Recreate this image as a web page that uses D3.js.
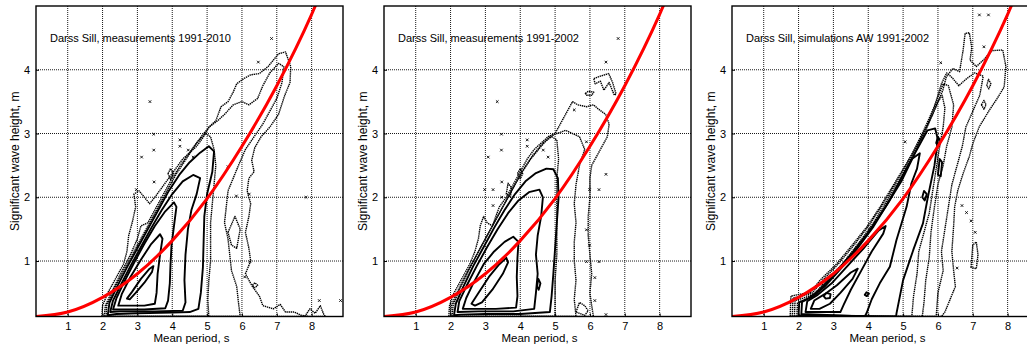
<!DOCTYPE html>
<html>
<head>
<meta charset="utf-8">
<script src="https://cdn.jsdelivr.net/npm/d3@7"></script>
<style>
  body { margin: 0; background: #fff; }
  svg { display: block; font-family: "Liberation Sans", Arial, sans-serif; }
</style>
</head>
<body>
<div id="graphic"></div>
<script>
// axis ticks
const periodTicks = [1, 2, 3, 4, 5, 6, 7, 8];
const heightTicks = [1, 2, 3, 4];
const periodRange = [0.09, 8.9];
const heightRange = [0.13, 5.0];

const panelTitles = [
  "Darss Sill, measurements 1991-2010",
  "Darss Sill, measurements 1991-2002",
  "Darss Sill, simulations AW 1991-2002"
];

// red reference curve
const curvePeriod = [0.09, 1, 2, 3, 4, 5, 6, 7, 8, 8.3];
const curveHeight = [0.13, 0.2, 0.43, 0.8, 1.32, 1.98, 2.8, 3.75, 4.87, 5.25];

// contour rings [period, height], level 1 = lowest density
const contoursMeas2010 = [
  { level: 1, pts: [[1.98,0.13],[2.0,0.3],[2.15,0.5],[2.4,0.75],[2.6,0.95],[2.7,1.15],[2.75,1.4],[2.85,1.6],[2.95,1.85],[2.9,2.05],[3.05,2.1],[3.2,2.0],[3.35,1.9],[3.5,2.0],[3.7,2.15],[3.9,2.3],[4.1,2.45],[4.3,2.6],[4.5,2.7],[4.7,2.8],[4.9,2.95],[5.05,3.1],[5.25,3.2],[5.4,3.42],[5.6,3.5],[5.75,3.65],[5.85,3.78],[6.05,3.86],[6.25,3.92],[6.5,3.94],[6.75,4.05],[6.9,4.15],[7.05,4.25],[7.25,4.28],[7.4,4.05],[7.38,3.8],[7.23,3.6],[7.05,3.3],[6.8,3.1],[6.55,2.95],[6.37,2.78],[6.28,2.58],[6.35,2.4],[6.2,2.3],[6.15,2.1],[6.25,1.9],[6.2,1.7],[6.1,1.45],[6.2,1.2],[6.25,1.0],[6.1,0.8],[6.3,0.6],[6.5,0.45],[6.6,0.3],[6.9,0.25],[7.1,0.32],[7.25,0.2],[7.5,0.2],[7.7,0.15],[7.9,0.13]] },
  { level: 1, pts: [[3.88,2.37],[3.95,2.45],[4.03,2.37],[3.95,2.28]] },
  { level: 1, pts: [[6.3,0.62],[6.37,0.66],[6.45,0.62],[6.37,0.58]] },
  { level: 1, pts: [[7.8,0.13],[7.95,0.25],[8.1,0.18],[8.25,0.3],[8.35,0.16],[8.4,0.13]] },
  { level: 2, pts: [[2.05,0.13],[2.08,0.3],[2.25,0.5],[2.5,0.78],[2.8,1.1],[3.0,1.35],[3.1,1.55],[3.3,1.6],[3.45,1.75],[3.7,2.0],[4.0,2.3],[4.3,2.55],[4.6,2.78],[4.9,3.0],[5.1,3.12],[5.3,3.2],[5.5,3.3],[5.75,3.45],[6.0,3.5],[6.2,3.45],[6.45,3.55],[6.6,3.75],[6.8,3.95],[7.05,4.1],[7.2,4.05],[7.15,3.8],[7.0,3.55],[6.8,3.35],[6.6,3.15],[6.35,2.95],[6.1,2.75],[5.9,2.5],[5.75,2.3],[5.6,2.1],[5.55,1.85],[5.5,1.6],[5.6,1.35],[5.65,1.1],[5.7,0.85],[5.85,0.6],[5.9,0.35],[5.95,0.13]] },
  { level: 2, pts: [[5.6,1.45],[5.8,1.7],[5.95,1.5],[5.85,1.2],[5.7,1.25]] },
  { level: 3, pts: [[2.1,0.13],[2.12,0.3],[2.3,0.52],[2.6,0.85],[2.9,1.15],[3.2,1.45],[3.5,1.75],[3.8,2.05],[4.1,2.35],[4.4,2.6],[4.7,2.85],[4.95,3.0],[5.1,2.95],[5.2,2.75],[5.25,2.5],[5.2,2.2],[5.15,1.9],[5.1,1.6],[5.1,1.3],[5.1,1.0],[5.05,0.7],[5.02,0.4],[5.05,0.13]] },
  { level: 4, pts: [[2.15,0.15],[2.2,0.35],[2.4,0.58],[2.7,0.9],[3.0,1.2],[3.3,1.5],[3.6,1.8],[3.9,2.1],[4.2,2.35],[4.5,2.55],[4.8,2.7],[5.05,2.8],[5.2,2.72],[5.15,2.4],[5.0,2.05],[4.92,1.7],[4.9,1.3],[4.88,0.9],[4.82,0.5],[4.75,0.25],[4.5,0.2],[4.0,0.19],[3.0,0.18],[2.4,0.17]] },
  { level: 5, pts: [[2.22,0.2],[2.3,0.38],[2.5,0.6],[2.8,0.92],[3.1,1.22],[3.4,1.52],[3.7,1.8],[4.0,2.05],[4.3,2.25],[4.6,2.35],[4.8,2.3],[4.7,2.05],[4.55,1.8],[4.45,1.5],[4.38,1.1],[4.35,0.7],[4.38,0.35],[4.3,0.22],[3.5,0.21],[2.5,0.21]] },
  { level: 6, pts: [[2.3,0.24],[2.4,0.42],[2.6,0.65],[2.9,0.97],[3.2,1.27],[3.5,1.55],[3.8,1.78],[4.05,1.92],[4.12,1.85],[4.05,1.55],[3.98,1.25],[3.95,0.95],[3.93,0.65],[3.88,0.38],[3.8,0.26],[3.2,0.24],[2.6,0.24]] },
  { level: 7, pts: [[2.45,0.3],[2.55,0.48],[2.8,0.75],[3.1,1.02],[3.4,1.27],[3.65,1.42],[3.72,1.35],[3.65,1.1],[3.58,0.8],[3.55,0.5],[3.5,0.33],[3.2,0.3],[2.8,0.3]] },
  { level: 8, pts: [[2.7,0.41],[2.85,0.52],[3.1,0.72],[3.35,0.88],[3.46,0.92],[3.42,0.83],[3.2,0.66],[2.95,0.5],[2.78,0.4]] }
];

const contoursMeas2002 = [
  { level: 1, pts: [[1.95,0.13],[1.97,0.3],[2.1,0.5],[2.35,0.75],[2.55,0.95],[2.7,1.15],[2.8,1.35],[2.85,1.55],[2.95,1.7],[3.05,1.6],[3.2,1.55],[3.3,1.7],[3.4,1.85],[3.6,2.0],[3.8,2.2],[4.0,2.4],[4.2,2.6],[4.4,2.75],[4.6,2.85],[4.8,2.95],[5.0,3.0],[5.2,3.2],[5.35,3.35],[5.5,3.5],[5.65,3.45],[5.9,3.42],[6.1,3.45],[6.25,3.38],[6.45,3.3],[6.55,3.15],[6.5,2.95],[6.35,2.8],[6.2,2.65],[6.05,2.5],[6.0,2.3],[6.0,2.0],[5.95,1.7],[5.95,1.4],[6.0,1.1],[6.05,0.8],[6.0,0.5],[6.05,0.3],[6.1,0.13]] },
  { level: 1, pts: [[6.11,3.86],[6.3,3.9],[6.54,3.94],[6.65,3.8],[6.75,3.62],[6.7,3.6],[6.55,3.8],[6.4,3.68],[6.3,3.82],[6.15,3.78]] },
  { level: 1, pts: [[5.87,3.63],[5.95,3.66],[6.11,3.65],[6.05,3.6],[5.9,3.6]] },
  { level: 1, pts: [[3.92,2.37],[4.0,2.45],[4.07,2.37],[4.0,2.29]] },
  { level: 1, pts: [[3.6,2.05],[3.65,2.22],[3.75,2.15],[3.72,2.0]] },
  { level: 1, pts: [[5.6,0.2],[5.7,0.35],[5.85,0.3],[5.95,0.22],[5.85,0.15]] },
  { level: 2, pts: [[2.0,0.13],[2.02,0.3],[2.2,0.52],[2.5,0.85],[2.8,1.15],[3.1,1.45],[3.4,1.75],[3.7,2.05],[4.0,2.35],[4.3,2.6],[4.6,2.8],[4.85,2.95],[5.05,3.0],[5.3,3.05],[5.5,3.0],[5.7,2.95],[5.85,2.75],[5.7,2.5],[5.6,2.2],[5.55,1.9],[5.6,1.6],[5.55,1.3],[5.55,1.0],[5.6,0.7],[5.55,0.4],[5.6,0.13]] },
  { level: 3, pts: [[2.05,0.13],[2.07,0.3],[2.25,0.55],[2.55,0.88],[2.85,1.2],[3.15,1.5],[3.45,1.8],[3.75,2.1],[4.05,2.4],[4.35,2.65],[4.65,2.85],[4.9,2.95],[5.05,2.9],[5.1,2.6],[5.05,2.3],[5.05,1.9],[5.05,1.5],[5.05,1.1],[5.0,0.7],[5.0,0.35],[5.0,0.13]] },
  { level: 4, pts: [[2.1,0.15],[2.15,0.33],[2.35,0.58],[2.65,0.92],[2.95,1.22],[3.25,1.52],[3.55,1.8],[3.85,2.05],[4.15,2.25],[4.45,2.38],[4.75,2.45],[4.95,2.44],[5.08,2.3],[5.1,2.0],[5.05,1.6],[5.0,1.2],[4.95,0.8],[4.9,0.45],[4.85,0.2],[4.0,0.17],[3.0,0.17],[2.3,0.16]] },
  { level: 5, pts: [[2.2,0.2],[2.25,0.37],[2.45,0.6],[2.75,0.92],[3.05,1.22],[3.35,1.5],[3.65,1.75],[3.95,1.95],[4.25,2.08],[4.55,2.12],[4.65,2.0],[4.6,1.7],[4.5,1.4],[4.45,1.1],[4.5,0.8],[4.45,0.5],[4.4,0.25],[3.8,0.21],[2.8,0.21]] },
  { level: 5, pts: [[4.48,0.6],[4.52,0.72],[4.58,0.65],[4.53,0.55]] },
  { level: 6, pts: [[2.35,0.25],[2.45,0.42],[2.65,0.65],[2.95,0.95],[3.25,1.15],[3.55,1.3],[3.8,1.38],[3.95,1.3],[3.92,1.05],[3.9,0.75],[3.92,0.45],[3.88,0.27],[3.3,0.25],[2.7,0.25]] },
  { level: 7, pts: [[2.6,0.33],[2.8,0.5],[3.1,0.75],[3.4,0.95],[3.6,1.05],[3.65,0.98],[3.5,0.8],[3.2,0.55],[2.9,0.35],[2.7,0.3]] }
];

const contoursSimAW = [
  { level: 1, pts: [[1.76,0.13],[1.78,0.45],[2.05,0.48],[2.33,0.5],[2.62,0.7],[3.1,0.96],[3.57,1.27],[3.95,1.53],[4.33,1.84],[4.81,2.27],[5.1,2.53],[5.48,2.89],[5.86,3.31],[6.14,3.68],[6.24,3.89],[6.43,4.02],[6.62,3.97],[6.72,4.3],[6.78,4.57],[6.9,4.58],[6.97,4.35],[6.92,4.15],[7.1,4.05],[7.3,4.15],[7.55,4.3],[7.86,4.31],[7.95,4.05],[7.9,3.73],[7.7,3.55],[7.48,3.37],[7.19,3.11],[7.0,2.84],[6.9,2.64],[6.72,2.37],[6.57,2.11],[6.48,1.85],[6.45,1.55],[6.4,1.15],[6.45,0.85],[6.5,0.6],[6.35,0.4],[6.2,0.2],[6.1,0.13]] },
  { level: 1, pts: [[6.95,0.9],[7.0,1.25],[7.1,1.3],[7.15,1.1],[7.1,0.88]] },
  { level: 1, pts: [[7.25,3.45],[7.32,3.52],[7.38,3.45],[7.32,3.38]] },
  { level: 1, pts: [[7.4,3.75],[7.45,3.85],[7.52,3.78],[7.46,3.7]] },
  { level: 2, pts: [[1.82,0.13],[1.84,0.42],[2.08,0.45],[2.38,0.49],[2.68,0.69],[3.15,0.96],[3.65,1.29],[4.05,1.58],[4.45,1.92],[4.85,2.28],[5.25,2.67],[5.6,3.06],[5.9,3.42],[6.1,3.78],[6.25,3.95],[6.4,3.88],[6.6,3.75],[6.8,3.85],[7.05,3.95],[7.3,3.9],[7.2,3.6],[7.0,3.35],[6.8,3.1],[6.7,2.8],[6.55,2.5],[6.4,2.2],[6.3,1.85],[6.2,1.5],[6.1,1.15],[6.15,0.85],[6.0,0.5],[5.95,0.13]] },
  { level: 3, pts: [[1.88,0.13],[1.9,0.38],[2.15,0.42],[2.45,0.48],[2.75,0.67],[3.25,0.95],[3.75,1.3],[4.15,1.6],[4.55,1.96],[4.95,2.33],[5.35,2.74],[5.68,3.12],[5.95,3.5],[6.15,3.78],[6.3,3.75],[6.45,3.45],[6.4,3.1],[6.25,2.8],[6.15,2.5],[6.0,2.2],[5.9,1.85],[5.8,1.45],[5.75,1.05],[5.65,0.7],[5.6,0.35],[5.55,0.13]] },
  { level: 4, pts: [[1.95,0.13],[1.97,0.35],[2.22,0.4],[2.52,0.48],[2.82,0.66],[3.32,0.94],[3.82,1.3],[4.22,1.62],[4.62,1.98],[5.02,2.36],[5.42,2.78],[5.73,3.15],[5.98,3.48],[6.12,3.6],[6.2,3.4],[6.15,3.1],[6.05,2.8],[5.95,2.45],[5.85,2.1],[5.75,1.75],[5.6,1.45],[5.45,1.15],[5.4,0.8],[5.3,0.45],[5.25,0.13]] },
  { level: 5, pts: [[2.0,0.15],[2.02,0.35],[2.3,0.42],[2.6,0.55],[3.0,0.78],[3.5,1.1],[4.0,1.45],[4.5,1.85],[4.95,2.25],[5.35,2.7],[5.7,3.05],[5.92,3.08],[6.0,2.9],[5.9,2.5],[5.71,2.0],[5.57,1.59],[5.29,1.17],[5.0,0.7],[4.81,0.18],[4.8,0.13]] },
  { level: 6, pts: [[2.08,0.17],[2.1,0.36],[2.4,0.44],[2.75,0.6],[3.15,0.84],[3.65,1.17],[4.15,1.54],[4.6,1.94],[4.95,2.3],[5.25,2.6],[5.48,2.69],[5.4,2.45],[5.24,2.22],[5.1,1.85],[4.81,1.33],[4.62,0.91],[4.33,0.65],[4.1,0.4],[3.95,0.18],[3.9,0.13]] },
  { level: 7, pts: [[2.2,0.2],[2.25,0.37],[2.55,0.47],[2.95,0.65],[3.4,0.92],[3.9,1.22],[4.3,1.48],[4.5,1.55],[4.43,1.43],[4.1,1.15],[3.8,0.85],[3.5,0.55],[3.3,0.32],[3.2,0.2]] },
  { level: 8, pts: [[2.35,0.25],[2.45,0.38],[2.75,0.48],[3.1,0.62],[3.5,0.82],[3.7,0.88],[3.55,0.72],[3.2,0.5],[2.9,0.33],[2.6,0.25]] },
  { level: 8, pts: [[5.55,2.0],[5.6,2.1],[5.68,2.05],[5.62,1.95]] },
  { level: 8, pts: [[5.95,2.85],[6.0,2.95],[6.07,2.88],[6.01,2.8]] },
  { level: 8, pts: [[6.0,2.35],[6.05,2.6],[6.12,2.55],[6.08,2.33]] },
  { level: 9, pts: [[2.72,0.45],[2.8,0.5],[2.92,0.48],[2.9,0.42],[2.78,0.41]] },
  { level: 9, pts: [[3.9,0.47],[3.95,0.51],[4.02,0.49],[3.96,0.45]] }
];

// isolated single observations (small crosses)
const outliersMeas2010 = [[6.85,4.49],[6.47,4.12],[3.36,3.5],[3.47,2.99],[3.47,2.74],[3.12,2.63],[2.97,2.12],[3.48,2.24],[4.46,2.74],[4.6,2.63],[4.22,2.8],[4.22,2.9],[5.6,2.48],[7.84,2.0],[8.22,0.38],[8.83,0.38],[6.08,0.75],[6.23,0.99],[6.21,2.05],[5.84,2.02]];
const outliersMeas2002 = [[6.81,4.49],[6.46,4.12],[3.34,3.5],[3.46,2.99],[3.46,2.74],[3.08,2.63],[2.98,2.12],[3.22,2.12],[3.47,2.24],[3.47,2.0],[3.22,1.87],[4.66,2.74],[4.8,2.63],[4.2,2.8],[4.2,2.9],[5.55,3.37],[5.9,2.87],[6.46,2.36],[5.99,2.12],[6.26,2.12],[5.9,1.49],[5.99,1.25],[5.9,0.99],[6.26,0.99],[6.14,0.74],[6.14,0.38],[6.46,0.16]];
const outliersSimAW = [[7.19,4.86],[7.45,4.86],[7.32,4.36],[6.08,4.11],[5.06,2.87],[6.69,1.87],[6.82,1.76],[6.95,1.63],[7.07,1.45],[6.55,0.89]];

const panels = [
  { title: panelTitles[0], contours: contoursMeas2010, outliers: outliersMeas2010 },
  { title: panelTitles[1], contours: contoursMeas2002, outliers: outliersMeas2002 },
  { title: panelTitles[2], contours: contoursSimAW, outliers: outliersSimAW }
];

const W = 1027, H = 345;
const plotLeft = [36, 384, 732];
const plotTop = 6, plotW = 307, plotH = 310.5;

const svg = d3.select("#graphic").append("svg")
  .attr("width", W)
  .attr("height", H);

panels.forEach(function (p, i) {
  const g = svg.append("g")
    .attr("transform", "translate(" + plotLeft[i] + "," + plotTop + ")");

  const x = d3.scaleLinear().domain(periodRange).range([0, plotW]);
  const y = d3.scaleLinear().domain(heightRange).range([plotH, 0]);

  const clipId = "clip" + i;
  g.append("clipPath").attr("id", clipId)
    .append("rect").attr("width", plotW).attr("height", plotH);

  // dotted grid
  const grid = g.append("g").attr("stroke", "#000").attr("stroke-width", 0.9)
    .attr("stroke-dasharray", "1,1");
  grid.selectAll(".gx").data(periodTicks).enter().append("line")
    .attr("x1", d => x(d)).attr("x2", d => x(d))
    .attr("y1", 0).attr("y2", plotH);
  grid.selectAll(".gy").data(heightTicks).enter().append("line")
    .attr("y1", d => y(d)).attr("y2", d => y(d))
    .attr("x1", 0).attr("x2", plotW);

  const plot = g.append("g").attr("clip-path", "url(#" + clipId + ")");

  const ring = d3.line()
    .x(d => x(d[0])).y(d => y(d[1]))
    .curve(d3.curveLinearClosed);

  const dottedLevels = i === 2 ? 4 : 3;

  // contours
  plot.selectAll(".contour")
    .data(p.contours)
    .enter().append("path")
    .attr("class", "contour")
    .attr("d", d => ring(d.pts))
    .attr("fill", "none")
    .attr("stroke", "#000")
    .attr("stroke-linejoin", "round")
    .attr("stroke-width", d => d.level <= dottedLevels ? 1.4 : 1.9)
    .attr("stroke-dasharray", d => d.level <= dottedLevels ? "1.4,0.7" : null);

  // outliers
  plot.selectAll(".out")
    .data(p.outliers)
    .enter().append("path")
    .attr("class", "out")
    .attr("d", function (d) {
      const cx = x(d[0]), cy = y(d[1]), r = 1.3;
      return "M" + (cx - r) + "," + (cy - r) + "L" + (cx + r) + "," + (cy + r)
        + "M" + (cx - r) + "," + (cy + r) + "L" + (cx + r) + "," + (cy - r);
    })
    .attr("stroke", "#000")
    .attr("stroke-width", 0.9);

  // red curve
  plot.append("path")
    .datum(d3.zip(curvePeriod, curveHeight))
    .attr("d", d3.line().x(d => x(d[0])).y(d => y(d[1])).curve(d3.curveMonotoneX))
    .attr("fill", "none")
    .attr("stroke", "#ff0000")
    .attr("stroke-width", 3);

  // axes (inward ticks, matlab style)
  const xAxis = g.append("g")
    .attr("transform", "translate(0," + plotH + ")")
    .call(d3.axisBottom(x).tickValues(periodTicks).tickSize(-3).tickPadding(6).tickFormat(d3.format("d")));
  const yAxis = g.append("g")
    .call(d3.axisLeft(y).tickValues(heightTicks).tickSize(-3).tickPadding(6).tickFormat(d3.format("d")));
  [xAxis, yAxis].forEach(a => {
    a.select(".domain").remove();
    a.selectAll("text").attr("font-size", 11).attr("fill", "#000")
      .attr("font-family", "Liberation Sans, Arial, sans-serif");
    a.selectAll("line").attr("stroke", "#000");
  });

  // frame
  g.append("rect")
    .attr("width", plotW).attr("height", plotH)
    .attr("fill", "none")
    .attr("stroke", "#000")
    .attr("stroke-width", 1.4);

  g.append("text")
    .attr("x", 14).attr("y", 36)
    .attr("font-size", 11)
    .text(p.title);

  g.append("text")
    .attr("x", plotW / 2 + 2).attr("y", plotH + 25)
    .attr("text-anchor", "middle")
    .attr("font-size", 11.5)
    .text("Mean period, s");

  g.append("text")
    .attr("transform", "translate(-17," + (plotH / 2) + ") rotate(-90)")
    .attr("text-anchor", "middle")
    .attr("font-size", 12)
    .text("Significant wave height, m");
});
</script>
</body>
</html>
